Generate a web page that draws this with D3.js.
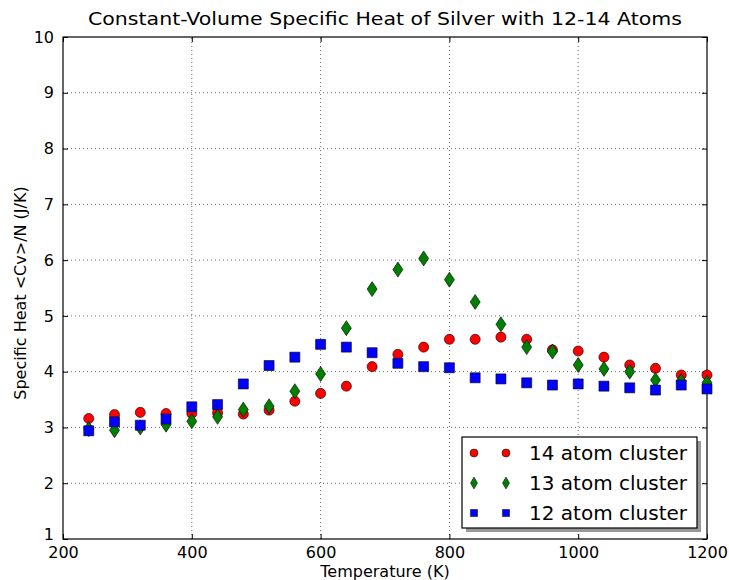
<!DOCTYPE html>
<html>
<head>
<meta charset="utf-8">
<script src="https://cdn.jsdelivr.net/npm/d3@7"></script>
<style>
  body { margin: 0; background: #fff; }
  text { font-family: "DejaVu Sans", sans-serif; fill: #000; }
</style>
</head>
<body>
<script>
var temps = [240, 280, 320, 360, 400, 440, 480, 520, 560, 600, 640, 680, 720,
             760, 800, 840, 880, 920, 960, 1000, 1040, 1080, 1120, 1160, 1200];

var cv14 = [3.16, 3.23, 3.27, 3.25, 3.25, 3.26, 3.24, 3.31, 3.47, 3.61, 3.74, 4.09, 4.31,
            4.44, 4.58, 4.58, 4.62, 4.58, 4.39, 4.37, 4.26, 4.12, 4.06, 3.94, 3.94];
var cv13 = [2.97, 2.95, 3.0, 3.05, 3.11, 3.19, 3.32, 3.38, 3.65, 3.96, 4.78, 5.48, 5.83,
            6.03, 5.65, 5.25, 4.85, 4.44, 4.36, 4.12, 4.05, 4.0, 3.85, 3.83, 3.8];
var cv12 = [2.94, 3.10, 3.04, 3.15, 3.37, 3.41, 3.78, 4.11, 4.26, 4.49, 4.44, 4.34, 4.15,
            4.09, 4.07, 3.89, 3.87, 3.80, 3.76, 3.78, 3.74, 3.71, 3.67, 3.76, 3.69];

var seriesNames = ["14 atom cluster", "13 atom cluster", "12 atom cluster"];
var xTicks = [200, 400, 600, 800, 1000, 1200];
var yTicks = [1, 2, 3, 4, 5, 6, 7, 8, 9, 10];

var width = 729, height = 580;
var margin = {top: 37, right: 22, bottom: 41, left: 63};

var svg = d3.select("body").append("svg")
    .attr("width", width)
    .attr("height", height);

var x = d3.scaleLinear().domain([200, 1200]).range([margin.left, width - margin.right]);
var y = d3.scaleLinear().domain([1, 10]).range([height - margin.bottom, margin.top]);

// grid
var grid = svg.append("g").attr("class", "grid");
grid.selectAll("line.gx").data(xTicks.slice(1, -1)).enter().append("line")
    .attr("x1", d => x(d)).attr("x2", d => x(d))
    .attr("y1", y(1)).attr("y2", y(10))
    .style("stroke", "#000").style("stroke-width", 0.6)
    .style("stroke-dasharray", "1,3");
grid.selectAll("line.gy").data(yTicks.slice(1, -1)).enter().append("line")
    .attr("y1", d => y(d)).attr("y2", d => y(d))
    .attr("x1", x(200)).attr("x2", x(1200))
    .style("stroke", "#000").style("stroke-width", 0.6)
    .style("stroke-dasharray", "1,3");

// axes with inward ticks
var fmt = d3.format("d");
var xAxis = svg.append("g").attr("transform", "translate(0," + y(1) + ")")
    .call(d3.axisBottom(x).tickValues(xTicks).tickFormat(fmt).tickSizeInner(-5).tickSizeOuter(0).tickPadding(8));
var xAxisTop = svg.append("g").attr("transform", "translate(0," + y(10) + ")")
    .call(d3.axisTop(x).tickValues(xTicks).tickSizeInner(-5).tickSizeOuter(0).tickFormat(""));
var yAxis = svg.append("g").attr("transform", "translate(" + x(200) + ",0)")
    .call(d3.axisLeft(y).tickValues(yTicks).tickFormat(fmt).tickSizeInner(-5).tickSizeOuter(0).tickPadding(9));
var yAxisRight = svg.append("g").attr("transform", "translate(" + x(1200) + ",0)")
    .call(d3.axisRight(y).tickValues(yTicks).tickSizeInner(-5).tickSizeOuter(0).tickFormat(""));

[xAxis, xAxisTop, yAxis, yAxisRight].forEach(function(a) {
    a.select(".domain").remove();
    a.selectAll("line").style("stroke", "#000");
    a.selectAll("text").style("font-family", "DejaVu Sans").style("font-size", "16px").style("fill", "#000");
});
// lowest y label sits just above the x labels, as in the original
yAxis.selectAll(".tick text").filter(d => d === 1).attr("dy", "0.05em");

// frame
svg.append("rect")
    .attr("x", x(200)).attr("y", y(10))
    .attr("width", x(1200) - x(200)).attr("height", y(1) - y(10))
    .style("fill", "none").style("stroke", "#000").style("stroke-width", 1.2);

// markers
var circleSym = d3.symbol().type(d3.symbolCircle).size(80);
var squareSym = d3.symbol().type(d3.symbolSquare).size(100);
function diamondPath(w, h) {
    return "M0," + (-h / 2) + "L" + (w / 2) + ",0L0," + (h / 2) + "L" + (-w / 2) + ",0Z";
}

var series = [
    {name: seriesNames[0], values: cv14, color: "#ff0000", shape: circleSym()},
    {name: seriesNames[1], values: cv13, color: "#007f00", shape: diamondPath(10, 15)},
    {name: seriesNames[2], values: cv12, color: "#0000ff", shape: squareSym()}
];

var plot = svg.append("g");
series.forEach(function(s) {
    plot.append("g").selectAll("path").data(temps).enter().append("path")
        .attr("d", s.shape)
        .attr("transform", (d, i) => "translate(" + x(d) + "," + y(s.values[i]) + ")")
        .style("fill", s.color)
        .style("stroke", "#000")
        .style("stroke-width", 0.6);
});

// title and labels
svg.append("text")
    .attr("x", (x(200) + x(1200)) / 2).attr("y", 25)
    .attr("text-anchor", "middle")
    .style("font-size", "18px")
    .attr("textLength", 594).attr("lengthAdjust", "spacingAndGlyphs")
    .text("Constant-Volume Specific Heat of Silver with 12-14 Atoms");

svg.append("text")
    .attr("x", (x(200) + x(1200)) / 2).attr("y", 577)
    .attr("text-anchor", "middle")
    .style("font-size", "16px")
    .text("Temperature (K)");

svg.append("text")
    .attr("transform", "translate(26," + ((y(1) + y(10)) / 2 + 5) + ") rotate(-90)")
    .attr("text-anchor", "middle")
    .style("font-size", "16px")
    .text("Specific Heat <Cv>/N  (J/K)");

// legend
var lg = svg.append("g").attr("transform", "translate(462,437)");
lg.append("rect").attr("x", 4).attr("y", 4).attr("width", 235).attr("height", 91)
    .style("fill", "#999");
lg.append("rect").attr("x", 0).attr("y", 0).attr("width", 235).attr("height", 91)
    .style("fill", "#fff").style("stroke", "#000").style("stroke-width", 1.2);
series.forEach(function(s, i) {
    var cy = 16 + i * 30;
    [12, 44].forEach(function(cx) {
        lg.append("path")
            .attr("d", i === 0 ? d3.symbol().type(d3.symbolCircle).size(50)() :
                       i === 1 ? diamondPath(7, 12) : d3.symbol().type(d3.symbolSquare).size(50)())
            .attr("transform", "translate(" + cx + "," + cy + ")")
            .style("fill", s.color).style("stroke", "#000").style("stroke-width", 0.5);
    });
    lg.append("text").attr("x", 67).attr("y", cy + 7)
        .style("font-size", "20px")
        .text(s.name);
});
</script>
</body>
</html>
